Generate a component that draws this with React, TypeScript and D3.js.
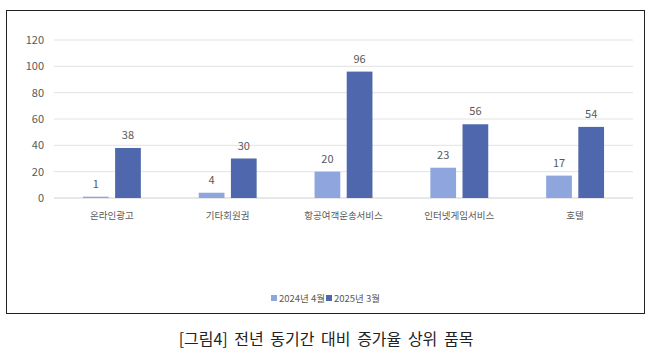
import React from "react";
import * as d3 from "d3";

const categories = ["온라인광고", "기타회원권", "항공여객운송서비스", "인터넷게임서비스", "호텔"];
const series2024 = [1, 4, 20, 23, 17];
const series2025 = [38, 30, 96, 56, 54];
const seriesNames = ["2024년 4월", "2025년 3월"];
const yTicks = [0, 20, 40, 60, 80, 100, 120];
const caption = "[그림4] 전년 동기간 대비 증가율 상위 품목";

const colors = ["#8FA5DE", "#4E67AD"];
const font = "'Noto Sans CJK KR', 'Noto Sans', sans-serif";

export default function App() {
  const W = 650, H = 357;
  const x0 = d3.scaleBand().domain(categories).range([54, 633]).paddingInner(0.5).paddingOuter(0.25);
  const x1 = d3.scaleBand().domain(seriesNames).range([0, x0.bandwidth()]).paddingInner(0.2);
  const y = d3.scaleLinear().domain([0, 120]).range([198, 40]);
  const data = [series2024, series2025];

  return (
    <svg width={W} height={H} style={{ position: "absolute", left: 0, top: 0, background: "#fff" }}>
      <rect x={0} y={0} width={W} height={H} fill="#fff" />
      <rect x={6.5} y={10.5} width={638} height={303} fill="none" stroke="#222" strokeWidth={1} />
      {yTicks.map((t) => (
        <g key={t}>
          <line x1={54} x2={633} y1={y(t)} y2={y(t)} stroke={t === 0 ? "#d0d0d0" : "#e2e2e2"} strokeWidth={1} />
          <text x={44} y={y(t)} dy="0.35em" textAnchor="end" fontSize={11} fill="#595959" fontFamily={font}>
            {t}
          </text>
        </g>
      ))}
      {categories.map((c, i) => (
        <g key={c} transform={`translate(${x0(c)},0)`}>
          {seriesNames.map((s, j) => {
            const v = data[j][i];
            const bx = x1(s)!;
            return (
              <g key={s}>
                <rect x={bx} y={y(v)} width={x1.bandwidth()} height={y(0) - y(v)} fill={colors[j]} />
                <text x={bx + x1.bandwidth() / 2} y={y(v) - 9} textAnchor="middle" fontSize={11} fill="#595959" fontFamily={font}>
                  {v}
                </text>
              </g>
            );
          })}
          <text x={x0.bandwidth() / 2} y={219} textAnchor="middle" fontSize={9.5} fill="#595959" fontFamily={font}>
            {c}
          </text>
        </g>
      ))}
      <g fontFamily={font} fontSize={9.5} fill="#595959">
        <rect x={271} y={295} width={6} height={6} fill={colors[0]} />
        <text x={279} y={301.5}>{seriesNames[0]}</text>
        <rect x={326} y={295} width={6} height={6} fill={colors[1]} />
        <text x={334} y={301.5}>{seriesNames[1]}</text>
      </g>
      <text x={326} y={345} textAnchor="middle" fontSize={16} fill="#222" fontFamily={font} style={{ wordSpacing: "3px" }}>
        {caption}
      </text>
    </svg>
  );
}
